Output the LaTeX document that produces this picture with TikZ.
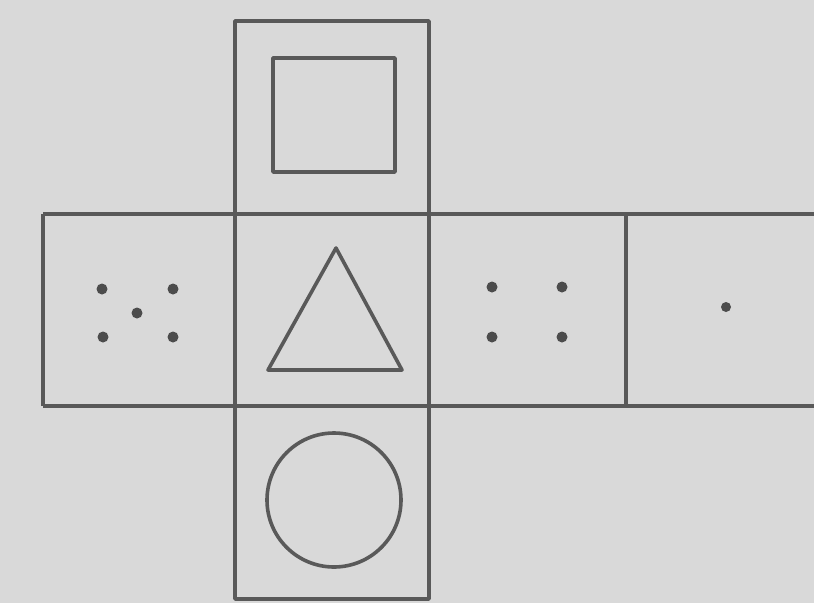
\documentclass[tikz,border=0pt]{standalone}
\begin{document}
\begin{tikzpicture}[x=1pt,y=-1pt,
  edge/.style={draw=black!65,line width=3.6pt,line join=round},
  pip/.style={fill=black!70}]
\useasboundingbox (0,0) rectangle (814,603);
\fill[black!15] (0,0) rectangle (814,603);
% vertical strip
\draw[edge] (235,21) rectangle (429,599);
% horizontal strip
\draw[edge] (43,214) -- (820,214);
\draw[edge] (43,406) -- (820,406);
\draw[edge] (43,214) -- (43,406);
\draw[edge] (626,214) -- (626,406);
% square
\draw[edge] (273,58) rectangle (395,172);
% triangle
\draw[edge] (336,248) -- (402,370) -- (268,370) -- cycle;
% circle
\draw[edge] (334,500) circle (67);
% pips left face
\foreach \p in {(102,289),(173,289),(137,313),(103,337),(173,337)}
  \fill[pip] \p circle (5.5);
% pips right face
\foreach \p in {(492,287),(562,287),(492,337),(562,337)}
  \fill[pip] \p circle (5.5);
\fill[pip] (726,307) circle (5);
\end{tikzpicture}
\end{document}
